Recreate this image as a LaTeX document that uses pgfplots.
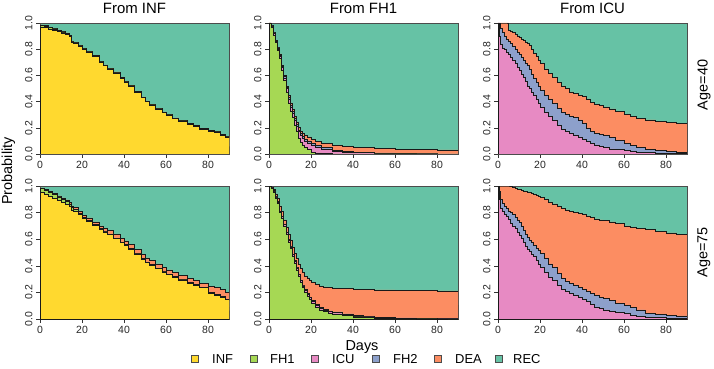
\documentclass[border=0pt]{standalone}
\usepackage{pgfplots}
\usepackage{pgfplotstable}
\pgfplotsset{compat=1.18}
\usepackage{fontspec}
\setmainfont{Liberation Sans}
\definecolor{infc}{HTML}{FFD92F}
\definecolor{fhac}{HTML}{A6D854}
\definecolor{icuc}{HTML}{E78AC3}
\definecolor{fhbc}{HTML}{8DA0CB}
\definecolor{deac}{HTML}{FC8D62}
\definecolor{recc}{HTML}{66C2A5}

% From INF, Age=40 : cumulative INF, +FH1, top (=1-REC)
\pgfplotstableread{
d a b t
0 0.97 0.982 0.985
2 0.965 0.976 0.979
4 0.955 0.966 0.969
6 0.945 0.955 0.958
8 0.935 0.945 0.948
10 0.925 0.932 0.935
12 0.915 0.921 0.924
14 0.90 0.905 0.908
15 0.855 0.859 0.862
16 0.845 0.848 0.851
18 0.825 0.828 0.831
20 0.80 0.803 0.806
22 0.78 0.783 0.786
25 0.745 0.748 0.751
28 0.70 0.703 0.706
30 0.675 0.678 0.681
32 0.65 0.653 0.656
35 0.62 0.623 0.626
38 0.58 0.583 0.586
40 0.55 0.553 0.556
42 0.52 0.523 0.526
45 0.47 0.473 0.476
48 0.43 0.433 0.436
50 0.40 0.403 0.406
52 0.375 0.378 0.381
55 0.345 0.348 0.351
58 0.315 0.318 0.321
60 0.295 0.298 0.301
63 0.27 0.273 0.276
66 0.25 0.253 0.256
70 0.225 0.228 0.231
73 0.21 0.213 0.216
76 0.19 0.193 0.196
80 0.175 0.178 0.181
83 0.165 0.168 0.171
86 0.145 0.148 0.151
88 0.13 0.133 0.136
90 0.115 0.118 0.121
}\tabA

% From INF, Age=75
\pgfplotstableread{
d a b t
0 0.95 0.98 0.985
2 0.935 0.965 0.972
4 0.92 0.95 0.957
6 0.905 0.935 0.942
8 0.89 0.918 0.926
10 0.875 0.90 0.91
12 0.86 0.885 0.895
14 0.845 0.865 0.877
15 0.82 0.84 0.85
16 0.81 0.825 0.837
18 0.785 0.795 0.81
20 0.755 0.762 0.78
22 0.735 0.741 0.76
25 0.705 0.71 0.73
28 0.675 0.68 0.70
30 0.655 0.66 0.683
32 0.635 0.64 0.665
35 0.605 0.61 0.637
38 0.575 0.58 0.607
40 0.555 0.559 0.588
42 0.525 0.529 0.56
45 0.49 0.494 0.525
48 0.45 0.454 0.485
50 0.425 0.429 0.46
52 0.405 0.409 0.44
55 0.38 0.384 0.415
58 0.355 0.359 0.39
60 0.335 0.339 0.37
63 0.315 0.319 0.35
66 0.295 0.299 0.33
70 0.27 0.274 0.305
73 0.255 0.258 0.29
76 0.235 0.238 0.27
80 0.195 0.198 0.245
83 0.18 0.183 0.235
86 0.165 0.168 0.22
88 0.145 0.148 0.20
90 0.13 0.133 0.185
}\tabD

% From FH1, Age=40 : cumulative FH1, +ICU, +FH2, +DEA
\pgfplotstableread{
d a b c t
0 1 1 1 1
1 0.97 0.975 0.978 0.98
2 0.91 0.92 0.925 0.93
3 0.85 0.86 0.865 0.87
4 0.79 0.80 0.81 0.815
5 0.73 0.745 0.755 0.765
6 0.64 0.66 0.67 0.68
7 0.56 0.58 0.59 0.60
8 0.47 0.50 0.51 0.52
9 0.39 0.42 0.435 0.445
10 0.33 0.36 0.375 0.39
11 0.28 0.31 0.325 0.34
12 0.22 0.26 0.275 0.29
13 0.17 0.21 0.225 0.245
14 0.12 0.17 0.185 0.205
15 0.09 0.14 0.155 0.175
16 0.07 0.12 0.135 0.155
17 0.05 0.10 0.115 0.14
18 0.035 0.085 0.10 0.13
20 0.015 0.065 0.08 0.11
22 0.008 0.05 0.065 0.095
25 0.003 0.035 0.05 0.08
30 0.001 0.02 0.03 0.065
35 0 0.013 0.02 0.057
40 0 0.01 0.015 0.05
50 0 0.005 0.008 0.042
60 0 0.003 0.004 0.036
70 0 0.001 0.002 0.033
80 0 0 0.001 0.031
90 0 0 0 0.03
}\tabB

% From FH1, Age=75
\pgfplotstableread{
d a b c t
0 1 1 1 1
1 0.98 0.985 0.987 0.99
2 0.955 0.962 0.965 0.975
3 0.91 0.918 0.921 0.94
4 0.87 0.879 0.882 0.905
5 0.80 0.81 0.813 0.85
6 0.76 0.77 0.774 0.81
7 0.70 0.711 0.715 0.745
8 0.64 0.652 0.656 0.69
9 0.58 0.592 0.596 0.635
10 0.53 0.543 0.547 0.59
11 0.47 0.484 0.488 0.54
12 0.42 0.434 0.438 0.495
13 0.37 0.385 0.389 0.455
14 0.32 0.335 0.34 0.415
15 0.275 0.29 0.295 0.38
16 0.235 0.25 0.255 0.35
17 0.20 0.215 0.22 0.325
18 0.17 0.185 0.19 0.305
19 0.145 0.16 0.165 0.29
20 0.12 0.135 0.14 0.275
22 0.09 0.104 0.109 0.258
24 0.068 0.081 0.086 0.248
26 0.055 0.067 0.072 0.242
28 0.045 0.056 0.061 0.237
30 0.038 0.048 0.053 0.233
35 0.025 0.033 0.038 0.228
40 0.016 0.022 0.026 0.224
45 0.011 0.016 0.019 0.221
50 0.007 0.011 0.014 0.219
60 0.003 0.006 0.008 0.216
70 0.001 0.003 0.005 0.214
80 0 0.001 0.003 0.212
90 0 0.001 0.002 0.21
}\tabE

% From ICU, Age=40 : cumulative ICU, +FH2, +DEA
\pgfplotstableread{
d b c t
0 1 1 1
0.5 0.90 1 1
1 0.84 0.96 1
2 0.81 0.93 1
3 0.80 0.90 1
4 0.78 0.875 1
5 0.76 0.86 0.945
6 0.74 0.845 0.94
7 0.715 0.825 0.93
8 0.69 0.80 0.915
9 0.665 0.78 0.90
10 0.64 0.76 0.89
11 0.61 0.735 0.875
12 0.585 0.715 0.865
13 0.555 0.695 0.855
14 0.52 0.675 0.845
15 0.50 0.645 0.83
16 0.475 0.61 0.80
17 0.45 0.58 0.77
18 0.42 0.55 0.745
19 0.39 0.515 0.715
20 0.36 0.49 0.69
22 0.32 0.45 0.65
24 0.285 0.42 0.615
26 0.255 0.385 0.585
28 0.22 0.35 0.55
30 0.19 0.32 0.52
32 0.17 0.305 0.50
34 0.155 0.29 0.475
36 0.145 0.28 0.46
38 0.13 0.26 0.45
40 0.11 0.235 0.44
42 0.095 0.20 0.42
44 0.08 0.175 0.395
46 0.07 0.16 0.38
48 0.06 0.15 0.37
50 0.05 0.145 0.36
53 0.04 0.125 0.345
56 0.033 0.105 0.325
60 0.025 0.08 0.30
63 0.02 0.065 0.285
66 0.015 0.05 0.27
70 0.01 0.035 0.26
75 0.007 0.025 0.25
80 0.005 0.018 0.24
85 0.003 0.012 0.232
90 0.002 0.008 0.226
}\tabC

% From ICU, Age=75
\pgfplotstableread{
d b c t
0 1 1 1
0.5 0.90 0.96 1
1 0.83 0.90 1
2 0.81 0.87 1
3 0.79 0.85 1
4 0.77 0.83 1
5 0.75 0.81 1
6 0.72 0.80 0.995
7 0.70 0.785 0.99
8 0.68 0.765 0.985
9 0.655 0.745 0.978
10 0.63 0.725 0.972
11 0.605 0.70 0.966
12 0.58 0.67 0.962
13 0.55 0.64 0.958
14 0.525 0.615 0.955
15 0.51 0.595 0.95
16 0.49 0.575 0.944
17 0.47 0.555 0.938
18 0.445 0.535 0.932
19 0.415 0.515 0.924
20 0.39 0.495 0.915
22 0.35 0.455 0.90
24 0.315 0.415 0.88
26 0.29 0.39 0.865
28 0.255 0.345 0.845
30 0.225 0.305 0.83
32 0.205 0.285 0.82
34 0.19 0.27 0.81
36 0.18 0.255 0.80
38 0.165 0.24 0.795
40 0.145 0.22 0.788
42 0.13 0.205 0.775
44 0.11 0.19 0.762
46 0.09 0.175 0.752
48 0.08 0.165 0.745
50 0.068 0.155 0.74
53 0.055 0.14 0.73
56 0.048 0.12 0.72
60 0.04 0.10 0.70
63 0.03 0.085 0.69
66 0.022 0.068 0.68
70 0.013 0.045 0.672
75 0.01 0.035 0.66
80 0.008 0.03 0.648
85 0.006 0.024 0.636
90 0.005 0.018 0.624
}\tabF

\pgfkeys{/pgf/number format/assume math mode=true}
\pgfplotsset{
  panel/.style={
    scale only axis, width=189bp,
    xmin=0, xmax=90, ymin=0, ymax=1,
    axis background/.style={fill=recc},
    xtick={0,20,40,60,80},
    ytick={0,0.2,0.4,0.6,0.8,1},
    tick align=outside, tick pos=left,
    major tick length=4bp,
    axis line style={black!70, line width=0.6bp},
    tick style={black!80, line width=0.5bp},
    ticklabel style={font=\fontsize{10.5}{12}\selectfont, text=black!85},
    yticklabel style={rotate=90, anchor=south,
      /pgf/number format/fixed, /pgf/number format/fixed zerofill,
      /pgf/number format/precision=1},
    every axis plot/.append style={const plot, draw=black!90, line width=0.5bp},
  },
}

\begin{document}
\begin{tikzpicture}[x=1bp,y=1bp]
\useasboundingbox (0,0) rectangle (714,368);

% ---- top row (Age=40) ----
\begin{axis}[panel, height=131bp, at={(40bp,214bp)}, anchor=south west]
\addplot[fill=deac] table[x=d,y=t]{\tabA} \closedcycle;
\addplot[fill=fhac] table[x=d,y=b]{\tabA} \closedcycle;
\addplot[fill=infc] table[x=d,y=a]{\tabA} \closedcycle;
\end{axis}
\begin{axis}[panel, height=131bp, at={(269bp,214bp)}, anchor=south west]
\addplot[fill=deac] table[x=d,y=t]{\tabB} \closedcycle;
\addplot[fill=fhbc] table[x=d,y=c]{\tabB} \closedcycle;
\addplot[fill=icuc] table[x=d,y=b]{\tabB} \closedcycle;
\addplot[fill=fhac] table[x=d,y=a]{\tabB} \closedcycle;
\end{axis}
\begin{axis}[panel, height=131bp, at={(498bp,214bp)}, anchor=south west]
\addplot[fill=deac] table[x=d,y=t]{\tabC} \closedcycle;
\addplot[fill=fhbc] table[x=d,y=c]{\tabC} \closedcycle;
\addplot[fill=icuc] table[x=d,y=b]{\tabC} \closedcycle;
\end{axis}

% ---- bottom row (Age=75) ----
\begin{axis}[panel, height=133bp, at={(40bp,49bp)}, anchor=south west]
\addplot[fill=deac] table[x=d,y=t]{\tabD} \closedcycle;
\addplot[fill=fhac] table[x=d,y=b]{\tabD} \closedcycle;
\addplot[fill=infc] table[x=d,y=a]{\tabD} \closedcycle;
\end{axis}
\begin{axis}[panel, height=133bp, at={(269bp,49bp)}, anchor=south west]
\addplot[fill=deac] table[x=d,y=t]{\tabE} \closedcycle;
\addplot[fill=fhbc] table[x=d,y=c]{\tabE} \closedcycle;
\addplot[fill=icuc] table[x=d,y=b]{\tabE} \closedcycle;
\addplot[fill=fhac] table[x=d,y=a]{\tabE} \closedcycle;
\end{axis}
\begin{axis}[panel, height=133bp, at={(498bp,49bp)}, anchor=south west]
\addplot[fill=deac] table[x=d,y=t]{\tabF} \closedcycle;
\addplot[fill=fhbc] table[x=d,y=c]{\tabF} \closedcycle;
\addplot[fill=icuc] table[x=d,y=b]{\tabF} \closedcycle;
\end{axis}

% ---- titles and labels ----
\begin{scope}[every node/.style={font=\fontsize{15}{17}\selectfont, inner sep=0pt}]
\node at (134.5,360) {From INF};
\node at (363.5,360) {From FH1};
\node at (592.5,360) {From ICU};
\end{scope}
\begin{scope}[every node/.style={font=\fontsize{14.5}{16}\selectfont, inner sep=0pt}]
\node[rotate=90] at (704,283) {Age=40};
\node[rotate=90] at (704,115.5) {Age=75};
\node[rotate=90] at (8.5,197) {Probability};
\node at (362,21) {Days};
\end{scope}

% ---- legend ----
\begin{scope}[every node/.style={font=\fontsize{13}{15}\selectfont, inner sep=0pt, anchor=west}]
\foreach \c/\t/\xs/\xt in {infc/INF/195/212, fhac/FH1/254/270, icuc/ICU/315/332, fhbc/FH2/376/393, deac/DEA/438/455, recc/REC/499/513}{
  \filldraw[fill=\c, draw=black!70, line width=0.5bp] (\xs-3.5,5.5) rectangle (\xs+3.5,12.5);
  \node at (\xt,9) {\t};
}
\end{scope}
\end{tikzpicture}
\end{document}
